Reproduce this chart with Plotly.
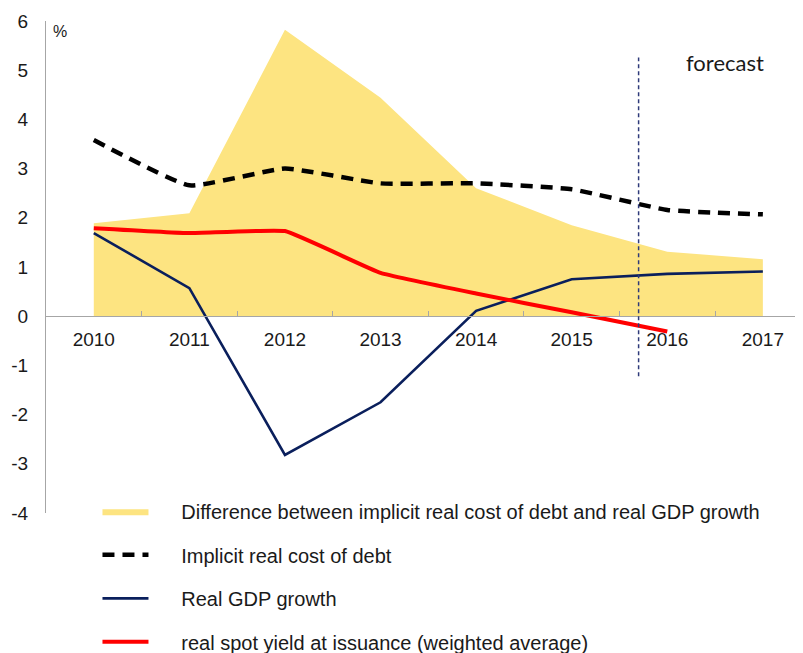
import plotly.graph_objects as go

years = ["2010", "2011", "2012", "2013", "2014", "2015", "2016", "2017"]
difference = [1.89, 2.09, 5.82, 4.44, 2.60, 1.85, 1.31, 1.16]
implicit_cost = [3.58, 2.66, 3.00, 2.70, 2.70, 2.58, 2.16, 2.07]
gdp_growth = [1.69, 0.57, -2.82, -1.75, 0.11, 0.75, 0.86, 0.91]
spot_yield_years = ["2010", "2011", "2012", "2013", "2014", "2015", "2016"]
spot_yield = [1.79, 1.69, 1.73, 0.88, 0.46, 0.08, -0.31]
y_tick_values = [-4, -3, -2, -1, 0, 1, 2, 3, 4, 5, 6]
y_tick_labels = ["-4", "-3", "-2", "-1", "0", "1", "2", "3", "4", "5", "6"]
forecast_x = 5.7
forecast_line_y = [-1.22, 5.26]

font_family = "Liberation Sans, Arial, sans-serif"
pad = "\u00a0" * 5

fig = go.Figure()
fig.add_trace(go.Scatter(
    x=years, y=difference, mode="lines", fill="tozeroy",
    fillcolor="#FDE481", line=dict(width=0, color="#FDE481"),
    name=pad + "Difference between implicit real cost of debt and real GDP growth",
    legendgroup="a"))
fig.add_trace(go.Scatter(
    x=years, y=implicit_cost, mode="lines",
    line=dict(color="black", width=4.5, dash="12px,8px", shape="spline", smoothing=0.4),
    name=pad + "Implicit real cost of debt", legendgroup="b"))
fig.add_trace(go.Scatter(
    x=years, y=gdp_growth, mode="lines",
    line=dict(color="#0A1F5C", width=2.6),
    name=pad + "Real GDP growth", legendgroup="c"))
fig.add_trace(go.Scatter(
    x=spot_yield_years, y=spot_yield, mode="lines",
    line=dict(color="#FF0000", width=4, shape="spline", smoothing=0.3),
    name=pad + "real spot yield at issuance (weighted average)", legendgroup="d"))

fig.add_shape(type="line", xref="x", yref="y",
              x0=forecast_x, x1=forecast_x, y0=forecast_line_y[0], y1=forecast_line_y[1],
              line=dict(color="#2E3A7A", width=1.5, dash="4px,3px"))

fig.add_annotation(text="forecast", xref="paper", yref="paper", x=0.897, y=0.915,
                   xanchor="center", yanchor="middle", showarrow=False,
                   font=dict(family="Lato, Open Sans, sans-serif", size=22, color="#1a1a1a"))
fig.add_annotation(text="%", xref="paper", yref="paper", x=0.007, y=1.0,
                   xanchor="left", yanchor="top", showarrow=False,
                   font=dict(family=font_family, size=16, color="#1a1a1a"))

fig.update_layout(
    width=795, height=645,
    margin=dict(l=38, r=0, t=13, b=140, autoexpand=False),
    paper_bgcolor="white", plot_bgcolor="white",
    font=dict(family=font_family, size=19, color="#1a1a1a"),
    showlegend=True,
    legend=dict(x=0.068, y=0.043, xanchor="left", yanchor="top",
                bgcolor="rgba(0,0,0,0)", tracegroupgap=14.5,
                font=dict(size=20, color="#1a1a1a"), itemwidth=46),
    xaxis=dict(type="category", range=[-0.5, 7.42], anchor="free", position=0.4,
               showline=True, linecolor="#A6A6A6", linewidth=1.3,
               showgrid=False, zeroline=False, automargin=False,
               tickson="boundaries", ticks="inside", ticklen=5, tickcolor="#A6A6A6",
               ticklabelstandoff=6),
    yaxis=dict(range=[-4, 6], tickmode="array", tickvals=y_tick_values, ticktext=y_tick_labels,
               showline=True, linecolor="#A6A6A6", linewidth=1.3,
               showgrid=False, zeroline=False, ticks="", ticklabelstandoff=13,
               automargin=False),
)

fig.write_html("out.html")
